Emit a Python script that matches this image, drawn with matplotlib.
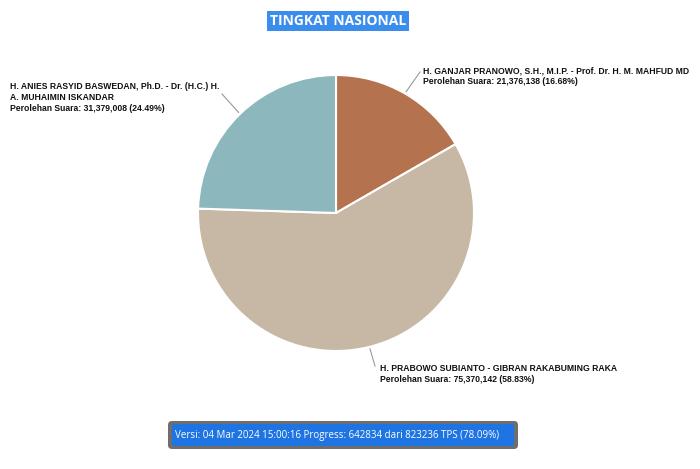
import numpy as np
import matplotlib
matplotlib.use('Agg')
from matplotlib import pyplot as plt
from matplotlib.patches import FancyBboxPatch

names = [
    'H. GANJAR PRANOWO, S.H., M.I.P. - Prof. Dr. H. M. MAHFUD MD',
    'H. PRABOWO SUBIANTO - GIBRAN RAKABUMING RAKA',
    'H. ANIES RASYID BASWEDAN, Ph.D. - Dr. (H.C.) H.\nA. MUHAIMIN ISKANDAR',
]
votes = [21376138, 75370142, 31379008]
percents = [16.68, 58.83, 24.49]
colors = ['#b4724f', '#c7b8a5', '#8cb7bd']
title = 'TINGKAT NASIONAL'
footer = 'Versi: 04 Mar 2024 15:00:16 Progress: 642834 dari 823236 TPS (78.09%)'

W, H = 700, 469
fig = plt.figure(figsize=(7, 4.69), dpi=100)
ax = fig.add_axes([0, 0, 1, 1])

cx, cy, r = 336, H - 213, 138
wedges, _ = ax.pie(votes, colors=colors, startangle=90, counterclock=False,
                   center=(cx, cy), radius=r,
                   wedgeprops=dict(edgecolor='white', linewidth=1.5))

# label anchor positions (pixels from top-left)
label_pos = [(423, 66), (380, 364), (10, 82)]
line_end = [(420, 72), (375, 366), (222, 94)]

for w, name, v, p, (lx, ly), (ex, ey) in zip(wedges, names, votes, percents, label_pos, line_end):
    mid = np.deg2rad((w.theta1 + w.theta2) / 2)
    x0 = cx + (r + 2) * np.cos(mid)
    y0 = cy + (r + 2) * np.sin(mid)
    ax.plot([x0, ex], [y0, H - ey], color='#999999', lw=0.8)
    txt = name + '\nPerolehan Suara: {:,} ({:.2f}%)'.format(v, p)
    ax.text(lx, H - ly, txt, ha='left', va='top', fontsize=6.2, fontweight='bold',
            family='Liberation Sans', linespacing=1.3, color='#111111')

# title box
ax.text(338, H - 21, title, ha='center', va='center', fontsize=10, fontweight='bold',
        family='Open Sans', color='white',
        bbox=dict(boxstyle='square,pad=0.22', fc='#3b8ded', ec='none'))

# footer box
outer = FancyBboxPatch((168, H - 449), 350, 28, boxstyle='round,pad=0,rounding_size=4',
                       fc='#6e6e6e', ec='none')
inner = FancyBboxPatch((172, H - 446), 342, 22, boxstyle='round,pad=0,rounding_size=2',
                       fc='#1f74e3', ec='none')
ax.add_patch(outer)
ax.add_patch(inner)
ax.text(337, H - 435, footer, ha='center', va='center', fontsize=7.0,
        family='Open Sans', color='white')

ax.set_xlim(0, W)
ax.set_ylim(0, H)
ax.set_aspect('auto')
ax.axis('off')
fig.savefig('out.png', dpi=100)
